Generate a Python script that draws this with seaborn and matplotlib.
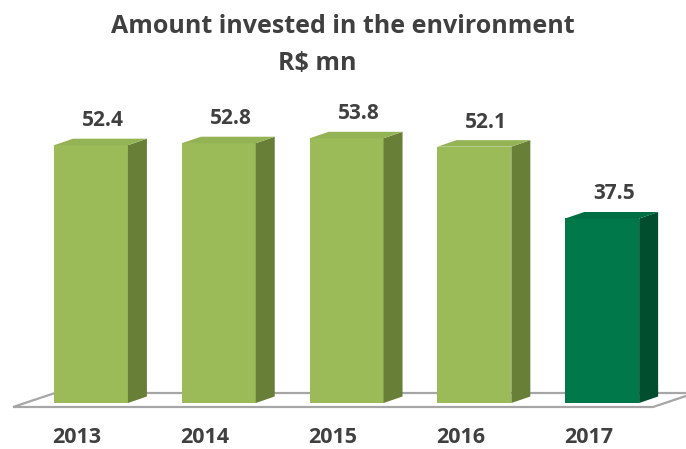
import matplotlib
matplotlib.use("Agg")
import matplotlib.pyplot as plt
from matplotlib.patches import Polygon
import seaborn as sns
import pandas as pd

years = ["2013", "2014", "2015", "2016", "2017"]
values = [52.4, 52.8, 53.8, 52.1, 37.5]
title_line1 = "Amount invested in the environment"
title_line2 = "R$ mn"

front_cols = ["#9BBB59", "#9BBB59", "#9BBB59", "#9BBB59", "#00784A"]
side_cols = ["#687F37", "#687F37", "#687F37", "#687F37", "#004E2E"]
top_cols = ["#93B354", "#93B354", "#93B354", "#93B354", "#006E43"]

sns.set_theme(style="white")
plt.rcParams['font.family'] = ['Open Sans', 'DejaVu Sans']

df = pd.DataFrame({"year": years, "value": values})

W, H = 686, 449
fig = plt.figure(figsize=(W / 100, H / 100), dpi=100)
ax = fig.add_axes([0, 0, 1, 1])

px_x = 127.8   # pixels per category
px_y = 4.92    # pixels per unit
x0_px = 91     # pixel x of first bar center
base_px = 403  # pixel y (from top) of bar base

sns.barplot(data=df, x="year", y="value", hue="year", palette=front_cols,
            legend=False, width=0.578, ax=ax, zorder=3, saturation=1,
            linewidth=0)

ax.set_xlim(-x0_px / px_x, (W - x0_px) / px_x)
ax.set_ylim(-(H - base_px) / px_y, base_px / px_y)
ax.axis("off")

dx = 19 / px_x
dy = 6.5 / px_y

# floor
fy_front = -(407 - base_px) / px_y
fy_back = (base_px - 393) / px_y
fx_fl = (13 - x0_px) / px_x
fx_fr = (653 - x0_px) / px_x
fdx = 42 / px_x
floor = Polygon([(fx_fl, fy_front), (fx_fr, fy_front), (fx_fr + fdx, fy_back),
                 (fx_fl + fdx, fy_back)], closed=True, facecolor="white",
                edgecolor="#A6A6A6", linewidth=1.6, zorder=1)
ax.add_patch(floor)

# 3D faces
for i, p in enumerate(ax.patches[:len(values)]):
    x = p.get_x(); w = p.get_width(); h = p.get_height()
    side = Polygon([(x + w, 0), (x + w + dx, dy), (x + w + dx, h + dy), (x + w, h)],
                   closed=True, facecolor=side_cols[i], edgecolor="none", zorder=3)
    top = Polygon([(x, h), (x + w, h), (x + w + dx, h + dy), (x + dx, h + dy)],
                  closed=True, facecolor=top_cols[i], edgecolor="none", zorder=3)
    ax.add_patch(side); ax.add_patch(top)
    ax.text(x + w / 2 + 12 / px_x, h + 19 / px_y, f"{values[i]:.1f}",
            ha="center", va="baseline", fontsize=15, fontweight="bold", color="#404040")
    ax.text(x + w / 2 - 14 / px_x, -(443 - base_px) / px_y, years[i],
            ha="center", va="baseline", fontsize=15.5, fontweight="bold", color="#404040")

fig.text(343 / W, 1 - 33 / H, title_line1, ha="center", va="baseline",
         fontsize=18, fontweight="bold", color="#404040")
fig.text(317 / W, 1 - 70 / H, title_line2, ha="center", va="baseline",
         fontsize=18, fontweight="bold", color="#404040")

fig.savefig("out.png", dpi=100, facecolor="white")
